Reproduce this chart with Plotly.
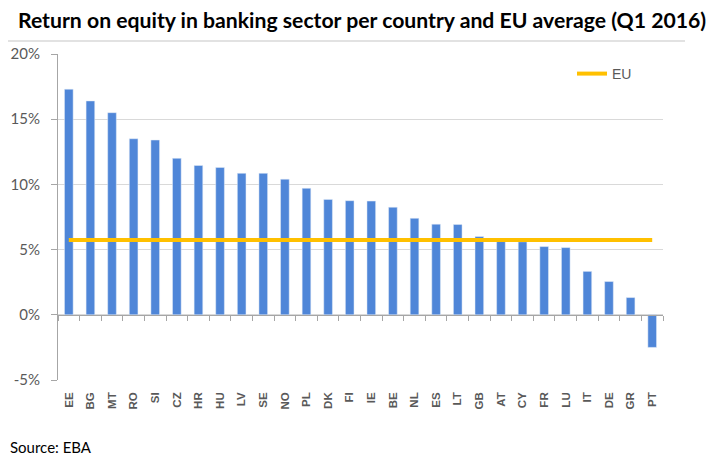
import plotly.graph_objects as go

countries = ["EE", "BG", "MT", "RO", "SI", "CZ", "HR", "HU", "LV", "SE", "NO", "PL", "DK", "FI",
             "IE", "BE", "NL", "ES", "LT", "GB", "AT", "CY", "FR", "LU", "IT", "DE", "GR", "PT"]
roe = [17.3, 16.4, 15.5, 13.5, 13.4, 12.0, 11.45, 11.3, 10.85, 10.85, 10.4, 9.7, 8.85, 8.75,
       8.72, 8.25, 7.4, 6.95, 6.92, 6.0, 5.65, 5.6, 5.23, 5.15, 3.33, 2.55, 1.32, -2.5]
eu_avg = 5.74
y_ticks = [-5, 0, 5, 10, 15, 20]
y_tick_labels = ["-5%", "0%", "5%", "10%", "15%", "20%"]

# the page body has an 8px default margin on every side: fit the figure inside it
OFF = 8
W, H = 719 - 2 * OFF, 465 - 2 * OFF
L, T = 58 - OFF, 54 - OFF
R = W - (663 - OFF)
B = H - (380 - OFF)
pw = W - L - R
ph = H - T - B


def fx(px):  # page x pixel -> paper x
    return (px - OFF - L) / pw


def fy(py):  # page y pixel -> paper y
    return (H - B - (py - OFF)) / ph


fig = go.Figure()
fig.add_trace(go.Bar(x=countries, y=roe, marker_color="#4F86D8", width=0.4,
                     showlegend=False, hoverinfo="x+y"))
fig.add_trace(go.Scatter(x=countries, y=[eu_avg] * len(countries), mode="lines", xaxis="x2",
                         line=dict(color="#FFC000", width=4), name="EU"))

grey = "#595959"
axgrey = "#A6A6A6"
fig.update_layout(
    width=W, height=H,
    margin=dict(l=L, r=R, t=T, b=B, autoexpand=False),
    paper_bgcolor="white", plot_bgcolor="white",
    font=dict(family="Lato", color=grey),
    title=dict(text="<b>Return on equity in banking sector per country and EU average (Q1 2016)</b>",
               xref="container", yref="container", x=(18 - OFF) / W, y=1 - (21 - OFF) / H,
               xanchor="left", yanchor="middle",
               font=dict(family="Lato", size=21.2, color="black")),
    xaxis=dict(type="category", categoryorder="array", categoryarray=countries,
               range=[-0.5, len(countries) - 0.5], automargin=False,
               showgrid=False, showline=False, ticks="",
               tickangle=-90, ticklabelstandoff=9,
               tickfont=dict(family="Arial", size=11.5, color=grey, weight="bold")),
    xaxis2=dict(type="category", categoryorder="array", categoryarray=countries,
                overlaying="x", anchor="free", position=5 / 25,
                range=[-0.5, len(countries) - 0.5], automargin=False,
                tickson="boundaries", ticks="outside", ticklen=5, tickcolor=axgrey,
                showline=True, linecolor=axgrey, linewidth=1, showticklabels=False,
                showgrid=False, zeroline=False, side="bottom"),
    yaxis=dict(range=[-5, 20], tickvals=y_ticks, ticktext=y_tick_labels, automargin=False,
               showgrid=True, gridcolor="#D9D9D9", gridwidth=1, zeroline=False,
               showline=True, linecolor=axgrey, linewidth=1,
               ticks="outside", ticklen=6, tickcolor=axgrey, ticklabelstandoff=8,
               tickfont=dict(family="Lato", size=15, color=grey)),
    legend=dict(x=fx(572), y=fy(74), xanchor="left", yanchor="middle",
                bgcolor="rgba(0,0,0,0)", font=dict(family="Arial", size=14, color=grey),
                itemwidth=30, tracegroupgap=0),
    annotations=[dict(text="Source: EBA", xref="paper", yref="paper",
                      x=fx(8), y=fy(447), xanchor="left", yanchor="middle",
                      showarrow=False, font=dict(family="Lato", size=15, color="black"))],
    shapes=[
        dict(type="line", xref="paper", yref="paper", x0=fx(7), x1=fx(685),
             y0=fy(41), y1=fy(41), line=dict(color="#D9D9D9", width=1.5)),
        dict(type="line", xref="paper", yref="paper", x0=fx(7), x1=fx(7),
             y0=fy(41), y1=fy(430), line=dict(color="#D9D9D9", width=1.5)),
    ],
)

fig.write_html("out.html")
